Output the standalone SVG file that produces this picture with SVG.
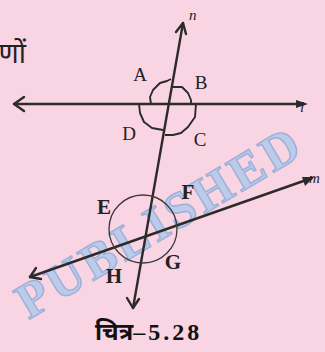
<svg xmlns="http://www.w3.org/2000/svg" width="325" height="352" viewBox="0 0 325 352">
<style>
.ln{stroke:#2b2b2b;stroke-width:2.4;fill:none;stroke-linecap:round;stroke-linejoin:round}
.arc{stroke:#2b2b2b;stroke-width:1.9;fill:none;stroke-linejoin:round}
.lbl{font-family:"Liberation Serif",serif;font-size:19px;fill:#222}
.lblb{font-family:"Liberation Serif",serif;font-size:21px;font-weight:bold;fill:#222}
.it{font-family:"Liberation Serif",serif;font-style:italic;font-size:15px;fill:#222}
.wm{font-family:"Liberation Serif",serif;font-weight:bold;font-size:50px;fill:#a9c9ee;stroke:#7ea6d6;stroke-width:1.5;opacity:0.75;letter-spacing:4px}
</style>
<rect width="325" height="352" fill="#f9d4e2"/>
<text x="26" y="63" text-anchor="end" font-family="'Noto Sans Devanagari','Noto Sans',sans-serif" font-size="28" fill="#222">णों</text>
<g id="watermark">
<text class="wm" x="0" y="0" text-anchor="middle" transform="translate(168,236) rotate(-31)">PUBLISHED</text>
</g>
<g id="connectors">
<line class="ln" x1="14" y1="104" x2="304" y2="104"/>
<polyline class="ln" points="24,97 14,104 24,111"/>
<path d="M296,100 L308,104 L296,108 Z" fill="#2b2b2b"/>
<line class="ln" x1="183" y1="23" x2="133" y2="308"/>
<polyline class="ln" points="176,32 183,23 186,34"/>
<polyline class="ln" points="127,298 133,308 139,299"/>
<line class="ln" x1="30" y1="277" x2="312" y2="178"/>
<polyline class="ln" points="36,268 30,277 41,279"/>
<path d="M302,177 L314,177 L305,186 Z" fill="#2b2b2b"/>
</g>
<g id="angles-top">
<polyline class="arc" points="151,104 150,97 153,90 160,83 167,81 171,79"/>
<polyline class="arc" points="171,87 182,87 188,93 191,100 191,104"/>
<polyline class="arc" points="139,104 140,113 144,122 152,128 163,130"/>
<polyline class="arc" points="196,104 195,117 188,127 181,133 173,135 165,135"/>
</g>
<g id="angles-bottom">
<circle cx="143" cy="229" r="34" fill="none" stroke="#3a3a3a" stroke-width="1.3"/>
</g>
<g id="labels">
<text class="it" x="189" y="20">n</text>
<text class="it" x="300" y="112">l</text>
<text class="it" x="309" y="183">m</text>
<text class="lbl" x="140" y="81" text-anchor="middle">A</text>
<text class="lbl" x="201" y="89" text-anchor="middle">B</text>
<text class="lbl" x="129" y="140" text-anchor="middle">D</text>
<text class="lbl" x="200" y="146" text-anchor="middle">C</text>
<text class="lblb" x="104" y="214" text-anchor="middle">E</text>
<text class="lblb" x="188" y="199" text-anchor="middle" font-size="13">F</text>
<text class="lblb" x="114" y="283" text-anchor="middle">H</text>
<text class="lblb" x="173" y="269" text-anchor="middle">G</text>
</g>
<text x="95" y="340" font-family="'Noto Sans Devanagari','Noto Sans',sans-serif" font-weight="bold" font-size="24" fill="#111">चित्र<tspan font-family="'Liberation Serif',serif" font-size="24" letter-spacing="3">–5.28</tspan></text>
</svg>
